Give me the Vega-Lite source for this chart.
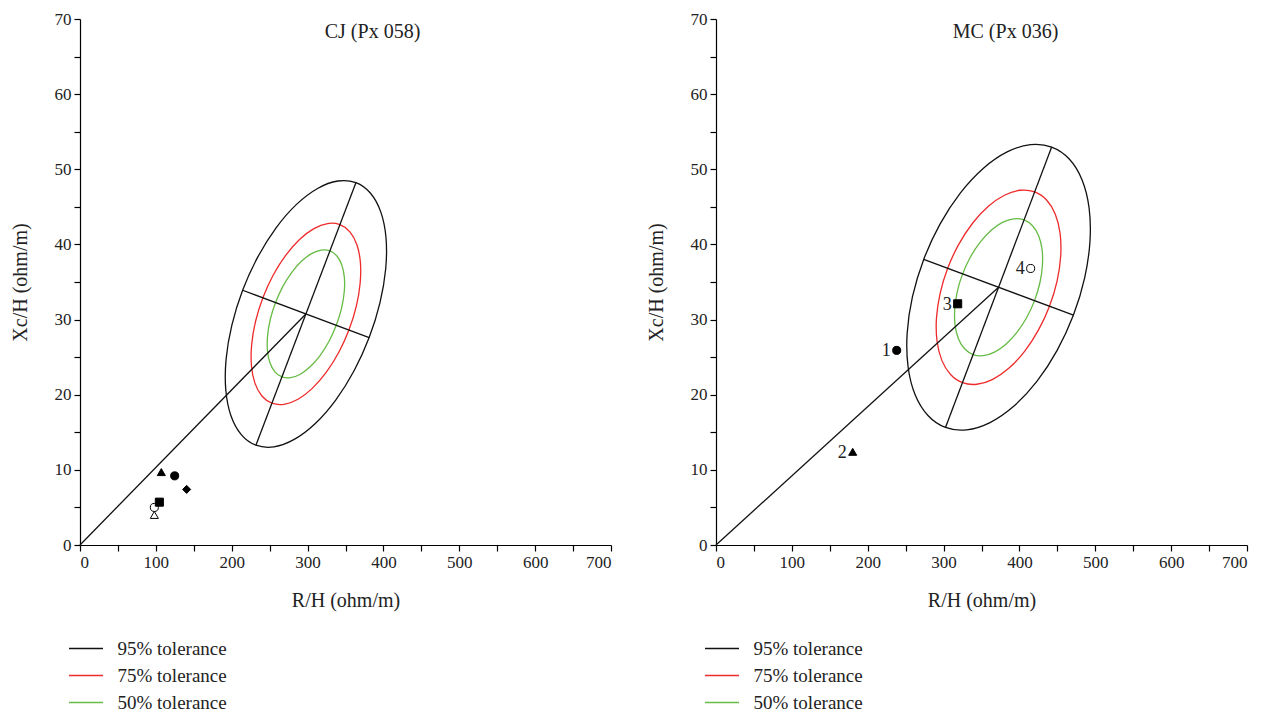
{
  "$schema": "https://vega.github.io/schema/vega-lite/v6.json",
  "padding": {"left": 10, "top": 10, "right": 5, "bottom": 0},
  "background": "white",
  "spacing": 34,
  "config": {
    "view": {"stroke": null},
    "font": "Liberation Serif",
    "axis": {"grid": false, "domainColor": "black", "tickColor": "black", "tickSize": 6, "domainWidth": 1.2, "tickWidth": 1.2, "labelFont": "Liberation Serif", "labelFontSize": 17, "labelColor": "#222", "titleFont": "Liberation Serif", "titleFontSize": 20, "titleFontWeight": "normal", "titleColor": "#222", "labelPadding": 3},
    "axisY": {"titlePadding": 24},
    "axisX": {"titlePadding": 20},
    "legend": {"orient": "none", "legendX": -3.5, "legendY": 620, "symbolType": "M -2,0 H 2", "symbolSize": 289, "symbolStrokeWidth": 1.5, "labelFont": "Liberation Serif", "labelFontSize": 19, "labelColor": "#222", "labelOffset": 22, "rowPadding": 7, "title": null},
    "title": {"font": "Liberation Serif", "fontSize": 20, "fontWeight": "normal", "color": "#222"}
  },
  "datasets": {
    "cjEll": [
      {"l":"95% tolerance","i":0,"x":363.7,"y":48.22},{"l":"95% tolerance","i":1,"x":383.0,"y":46.81},{"l":"95% tolerance","i":2,"x":396.6,"y":44.30},{"l":"95% tolerance","i":3,"x":403.4,"y":40.88},{"l":"95% tolerance","i":4,"x":403.0,"y":36.76},{"l":"95% tolerance","i":5,"x":395.4,"y":32.23},{"l":"95% tolerance","i":6,"x":381.2,"y":27.60},{"l":"95% tolerance","i":7,"x":361.3,"y":23.19},{"l":"95% tolerance","i":8,"x":337.1,"y":19.29},{"l":"95% tolerance","i":9,"x":310.2,"y":16.17},{"l":"95% tolerance","i":10,"x":282.4,"y":14.05},{"l":"95% tolerance","i":11,"x":255.7,"y":13.06},{"l":"95% tolerance","i":12,"x":231.9,"y":13.28},{"l":"95% tolerance","i":13,"x":212.6,"y":14.69},{"l":"95% tolerance","i":14,"x":199.0,"y":17.20},{"l":"95% tolerance","i":15,"x":192.2,"y":20.62},{"l":"95% tolerance","i":16,"x":192.6,"y":24.74},{"l":"95% tolerance","i":17,"x":200.2,"y":29.27},{"l":"95% tolerance","i":18,"x":214.4,"y":33.90},{"l":"95% tolerance","i":19,"x":234.3,"y":38.31},{"l":"95% tolerance","i":20,"x":258.5,"y":42.21},{"l":"95% tolerance","i":21,"x":285.4,"y":45.33},{"l":"95% tolerance","i":22,"x":313.2,"y":47.45},{"l":"95% tolerance","i":23,"x":339.9,"y":48.44},
      {"l":"75% tolerance","i":0,"x":342.6,"y":42.63},{"l":"75% tolerance","i":1,"x":355.8,"y":41.67},{"l":"75% tolerance","i":2,"x":365.0,"y":39.96},{"l":"75% tolerance","i":3,"x":369.6,"y":37.64},{"l":"75% tolerance","i":4,"x":369.3,"y":34.84},{"l":"75% tolerance","i":5,"x":364.2,"y":31.76},{"l":"75% tolerance","i":6,"x":354.5,"y":28.61},{"l":"75% tolerance","i":7,"x":341.0,"y":25.61},{"l":"75% tolerance","i":8,"x":324.5,"y":22.96},{"l":"75% tolerance","i":9,"x":306.2,"y":20.84},{"l":"75% tolerance","i":10,"x":287.4,"y":19.39},{"l":"75% tolerance","i":11,"x":269.2,"y":18.72},{"l":"75% tolerance","i":12,"x":253.0,"y":18.87},{"l":"75% tolerance","i":13,"x":239.8,"y":19.83},{"l":"75% tolerance","i":14,"x":230.6,"y":21.54},{"l":"75% tolerance","i":15,"x":226.0,"y":23.86},{"l":"75% tolerance","i":16,"x":226.3,"y":26.66},{"l":"75% tolerance","i":17,"x":231.4,"y":29.74},{"l":"75% tolerance","i":18,"x":241.1,"y":32.89},{"l":"75% tolerance","i":19,"x":254.6,"y":35.89},{"l":"75% tolerance","i":20,"x":271.1,"y":38.54},{"l":"75% tolerance","i":21,"x":289.4,"y":40.66},{"l":"75% tolerance","i":22,"x":308.3,"y":42.11},{"l":"75% tolerance","i":23,"x":326.4,"y":42.78},
      {"l":"50% tolerance","i":0,"x":329.4,"y":39.14},{"l":"50% tolerance","i":1,"x":338.7,"y":38.46},{"l":"50% tolerance","i":2,"x":345.2,"y":37.25},{"l":"50% tolerance","i":3,"x":348.5,"y":35.61},{"l":"50% tolerance","i":4,"x":348.3,"y":33.63},{"l":"50% tolerance","i":5,"x":344.7,"y":31.46},{"l":"50% tolerance","i":6,"x":337.8,"y":29.24},{"l":"50% tolerance","i":7,"x":328.3,"y":27.12},{"l":"50% tolerance","i":8,"x":316.7,"y":25.25},{"l":"50% tolerance","i":9,"x":303.7,"y":23.75},{"l":"50% tolerance","i":10,"x":290.4,"y":22.73},{"l":"50% tolerance","i":11,"x":277.6,"y":22.26},{"l":"50% tolerance","i":12,"x":266.2,"y":22.36},{"l":"50% tolerance","i":13,"x":256.9,"y":23.04},{"l":"50% tolerance","i":14,"x":250.4,"y":24.25},{"l":"50% tolerance","i":15,"x":247.1,"y":25.89},{"l":"50% tolerance","i":16,"x":247.3,"y":27.87},{"l":"50% tolerance","i":17,"x":250.9,"y":30.04},{"l":"50% tolerance","i":18,"x":257.8,"y":32.26},{"l":"50% tolerance","i":19,"x":267.3,"y":34.38},{"l":"50% tolerance","i":20,"x":279.0,"y":36.25},{"l":"50% tolerance","i":21,"x":291.9,"y":37.75},{"l":"50% tolerance","i":22,"x":305.2,"y":38.77},{"l":"50% tolerance","i":23,"x":318.0,"y":39.24}
    ],
    "mcEll": [
      {"l":"95% tolerance","i":0,"x":442.5,"y":52.96},{"l":"95% tolerance","i":1,"x":465.7,"y":51.37},{"l":"95% tolerance","i":2,"x":482.5,"y":48.61},{"l":"95% tolerance","i":3,"x":491.8,"y":44.88},{"l":"95% tolerance","i":4,"x":493.0,"y":40.43},{"l":"95% tolerance","i":5,"x":486.0,"y":35.56},{"l":"95% tolerance","i":6,"x":471.2,"y":30.60},{"l":"95% tolerance","i":7,"x":449.7,"y":25.90},{"l":"95% tolerance","i":8,"x":423.0,"y":21.77},{"l":"95% tolerance","i":9,"x":392.8,"y":18.49},{"l":"95% tolerance","i":10,"x":361.2,"y":16.29},{"l":"95% tolerance","i":11,"x":330.4,"y":15.32},{"l":"95% tolerance","i":12,"x":302.5,"y":15.64},{"l":"95% tolerance","i":13,"x":279.4,"y":17.23},{"l":"95% tolerance","i":14,"x":262.5,"y":19.99},{"l":"95% tolerance","i":15,"x":253.2,"y":23.72},{"l":"95% tolerance","i":16,"x":252.0,"y":28.17},{"l":"95% tolerance","i":17,"x":259.0,"y":33.04},{"l":"95% tolerance","i":18,"x":273.8,"y":38.00},{"l":"95% tolerance","i":19,"x":295.3,"y":42.70},{"l":"95% tolerance","i":20,"x":322.0,"y":46.83},{"l":"95% tolerance","i":21,"x":352.2,"y":50.11},{"l":"95% tolerance","i":22,"x":383.8,"y":52.31},{"l":"95% tolerance","i":23,"x":414.6,"y":53.28},
      {"l":"75% tolerance","i":0,"x":420.1,"y":46.99},{"l":"75% tolerance","i":1,"x":435.8,"y":45.91},{"l":"75% tolerance","i":2,"x":447.3,"y":44.03},{"l":"75% tolerance","i":3,"x":453.6,"y":41.49},{"l":"75% tolerance","i":4,"x":454.4,"y":38.47},{"l":"75% tolerance","i":5,"x":449.7,"y":35.16},{"l":"75% tolerance","i":6,"x":439.6,"y":31.78},{"l":"75% tolerance","i":7,"x":425.0,"y":28.59},{"l":"75% tolerance","i":8,"x":406.8,"y":25.78},{"l":"75% tolerance","i":9,"x":386.3,"y":23.55},{"l":"75% tolerance","i":10,"x":364.8,"y":22.05},{"l":"75% tolerance","i":11,"x":343.9,"y":21.39},{"l":"75% tolerance","i":12,"x":324.9,"y":21.61},{"l":"75% tolerance","i":13,"x":309.2,"y":22.69},{"l":"75% tolerance","i":14,"x":297.7,"y":24.57},{"l":"75% tolerance","i":15,"x":291.4,"y":27.11},{"l":"75% tolerance","i":16,"x":290.6,"y":30.13},{"l":"75% tolerance","i":17,"x":295.4,"y":33.44},{"l":"75% tolerance","i":18,"x":305.4,"y":36.82},{"l":"75% tolerance","i":19,"x":320.0,"y":40.01},{"l":"75% tolerance","i":20,"x":338.2,"y":42.82},{"l":"75% tolerance","i":21,"x":358.7,"y":45.05},{"l":"75% tolerance","i":22,"x":380.2,"y":46.55},{"l":"75% tolerance","i":23,"x":401.1,"y":47.21},
      {"l":"50% tolerance","i":0,"x":406.1,"y":43.26},{"l":"50% tolerance","i":1,"x":417.2,"y":42.49},{"l":"50% tolerance","i":2,"x":425.3,"y":41.17},{"l":"50% tolerance","i":3,"x":429.8,"y":39.38},{"l":"50% tolerance","i":4,"x":430.3,"y":37.24},{"l":"50% tolerance","i":5,"x":427.0,"y":34.90},{"l":"50% tolerance","i":6,"x":419.9,"y":32.52},{"l":"50% tolerance","i":7,"x":409.6,"y":30.27},{"l":"50% tolerance","i":8,"x":396.7,"y":28.29},{"l":"50% tolerance","i":9,"x":382.2,"y":26.71},{"l":"50% tolerance","i":10,"x":367.1,"y":25.66},{"l":"50% tolerance","i":11,"x":352.3,"y":25.19},{"l":"50% tolerance","i":12,"x":338.9,"y":25.34},{"l":"50% tolerance","i":13,"x":327.8,"y":26.11},{"l":"50% tolerance","i":14,"x":319.7,"y":27.43},{"l":"50% tolerance","i":15,"x":315.2,"y":29.22},{"l":"50% tolerance","i":16,"x":314.7,"y":31.36},{"l":"50% tolerance","i":17,"x":318.0,"y":33.70},{"l":"50% tolerance","i":18,"x":325.1,"y":36.08},{"l":"50% tolerance","i":19,"x":335.4,"y":38.33},{"l":"50% tolerance","i":20,"x":348.3,"y":40.31},{"l":"50% tolerance","i":21,"x":362.8,"y":41.89},{"l":"50% tolerance","i":22,"x":377.6,"y":42.94},{"l":"50% tolerance","i":23,"x":392.3,"y":43.41}
    ],
    "cjSeg": [
      {"x":0,"y":0,"x2":297.8,"y2":30.75},
      {"x":231.9,"y":13.28,"x2":363.7,"y2":48.22},
      {"x":214.4,"y":33.90,"x2":381.2,"y2":27.60}
    ],
    "mcSeg": [
      {"x":0,"y":0,"x2":372.5,"y2":34.3},
      {"x":302.5,"y":15.64,"x2":442.5,"y2":52.96},
      {"x":273.8,"y":38.00,"x2":471.2,"y2":30.60}
    ],
    "cjPts": [
      {"x":107.2,"y":9.7,"m":"filled triangle","t":""},
      {"x":124.8,"y":9.2,"m":"filled circle","t":""},
      {"x":140.6,"y":7.4,"m":"filled diamond","t":""},
      {"x":98.0,"y":4.0,"m":"open triangle","t":""},
      {"x":98.0,"y":5.0,"m":"open circle","t":""},
      {"x":104.6,"y":5.7,"m":"filled square","t":""}
    ],
    "mcPts": [
      {"x":238.2,"y":25.9,"m":"filled circle","t":"1"},
      {"x":180.2,"y":12.4,"m":"filled triangle","t":"2"},
      {"x":318.6,"y":32.1,"m":"filled square","t":"3"},
      {"x":414.8,"y":36.8,"m":"open circle","t":"4"}
    ]
  },
  "resolve": {"scale": {"color": "independent"}, "legend": {"color": "independent"}},
  "hconcat": [
    {
      "width": 531, "height": 526,
      "title": {"text": "CJ (Px 058)", "anchor": "middle", "dx": 27, "offset": -48, "baseline": "alphabetic"},
      "encoding": {
        "x": {"field": "x", "type": "quantitative", "scale": {"domain": [0, 700], "nice": false}, "axis": {"title": "R/H (ohm/m)", "labelFont": "Liberation Serif", "values": [0,50,100,150,200,250,300,350,400,450,500,550,600,650,700], "labelExpr": "datum.value % 100 === 0 ? datum.label : ''"}},
        "y": {"field": "y", "type": "quantitative", "scale": {"domain": [0, 70], "nice": false}, "axis": {"title": "Xc/H (ohm/m)", "labelFont": "Liberation Serif", "values": [0,5,10,15,20,25,30,35,40,45,50,55,60,65,70], "labelExpr": "datum.value % 10 === 0 ? datum.label : ''"}}
      },
      "layer": [
        {
          "data": {"name": "cjEll"},
          "mark": {"type": "line", "interpolate": "cardinal-closed", "strokeWidth": 1.3},
          "encoding": {
            "color": {"field": "l", "type": "nominal", "scale": {"domain": ["95% tolerance", "75% tolerance", "50% tolerance"], "range": ["#111111", "#ee2a2a", "#66bb44"]}, "legend": {"labelFont": "Liberation Serif"}},
            "detail": {"field": "l"},
            "order": {"field": "i", "type": "quantitative"}
          }
        },
        {
          "data": {"name": "cjSeg"},
          "mark": {"type": "rule", "color": "#111111", "strokeWidth": 1.3},
          "encoding": {"x2": {"field": "x2"}, "y2": {"field": "y2"}}
        },
        {
          "data": {"name": "cjPts"},
          "mark": {"type": "point", "stroke": "black", "strokeWidth": 1, "size": 65, "opacity": 1, "fillOpacity": 1},
          "encoding": {
            "shape": {"field": "m", "type": "nominal", "legend": null, "scale": {"domain": ["filled triangle", "filled circle", "filled diamond", "filled square", "open circle", "open triangle"], "range": ["triangle-up", "circle", "diamond", "square", "circle", "triangle-up"]}},
            "fill": {"field": "m", "type": "nominal", "legend": null, "scale": {"domain": ["filled triangle", "filled circle", "filled diamond", "filled square", "open circle", "open triangle"], "range": ["black", "black", "black", "black", "white", "white"]}}
          }
        }
      ]
    },
    {
      "width": 531, "height": 526,
      "title": {"text": "MC (Px 036)", "anchor": "middle", "dx": 24, "offset": -48, "baseline": "alphabetic"},
      "encoding": {
        "x": {"field": "x", "type": "quantitative", "scale": {"domain": [0, 700], "nice": false}, "axis": {"title": "R/H (ohm/m)", "labelFont": "Liberation Serif", "values": [0,50,100,150,200,250,300,350,400,450,500,550,600,650,700], "labelExpr": "datum.value % 100 === 0 ? datum.label : ''"}},
        "y": {"field": "y", "type": "quantitative", "scale": {"domain": [0, 70], "nice": false}, "axis": {"title": "Xc/H (ohm/m)", "labelFont": "Liberation Serif", "values": [0,5,10,15,20,25,30,35,40,45,50,55,60,65,70], "labelExpr": "datum.value % 10 === 0 ? datum.label : ''"}}
      },
      "layer": [
        {
          "data": {"name": "mcEll"},
          "mark": {"type": "line", "interpolate": "cardinal-closed", "strokeWidth": 1.3},
          "encoding": {
            "color": {"field": "l", "type": "nominal", "scale": {"domain": ["95% tolerance", "75% tolerance", "50% tolerance"], "range": ["#111111", "#ee2a2a", "#66bb44"]}, "legend": {"labelFont": "Liberation Serif"}},
            "detail": {"field": "l"},
            "order": {"field": "i", "type": "quantitative"}
          }
        },
        {
          "data": {"name": "mcSeg"},
          "mark": {"type": "rule", "color": "#111111", "strokeWidth": 1.3},
          "encoding": {"x2": {"field": "x2"}, "y2": {"field": "y2"}}
        },
        {
          "data": {"name": "mcPts"},
          "mark": {"type": "point", "stroke": "black", "strokeWidth": 1, "size": 65, "opacity": 1, "fillOpacity": 1},
          "encoding": {
            "shape": {"field": "m", "type": "nominal", "legend": null, "scale": {"domain": ["filled triangle", "filled circle", "filled diamond", "filled square", "open circle", "open triangle"], "range": ["triangle-up", "circle", "diamond", "square", "circle", "triangle-up"]}},
            "fill": {"field": "m", "type": "nominal", "legend": null, "scale": {"domain": ["filled triangle", "filled circle", "filled diamond", "filled square", "open circle", "open triangle"], "range": ["black", "black", "black", "black", "white", "white"]}}
          }
        },
        {
          "data": {"name": "mcPts"},
          "mark": {"type": "text", "align": "right", "baseline": "middle", "dx": -6, "dy": 1, "fontSize": 18, "font": "Liberation Serif", "color": "#222"},
          "encoding": {"text": {"field": "t"}}
        }
      ]
    }
  ]
}
